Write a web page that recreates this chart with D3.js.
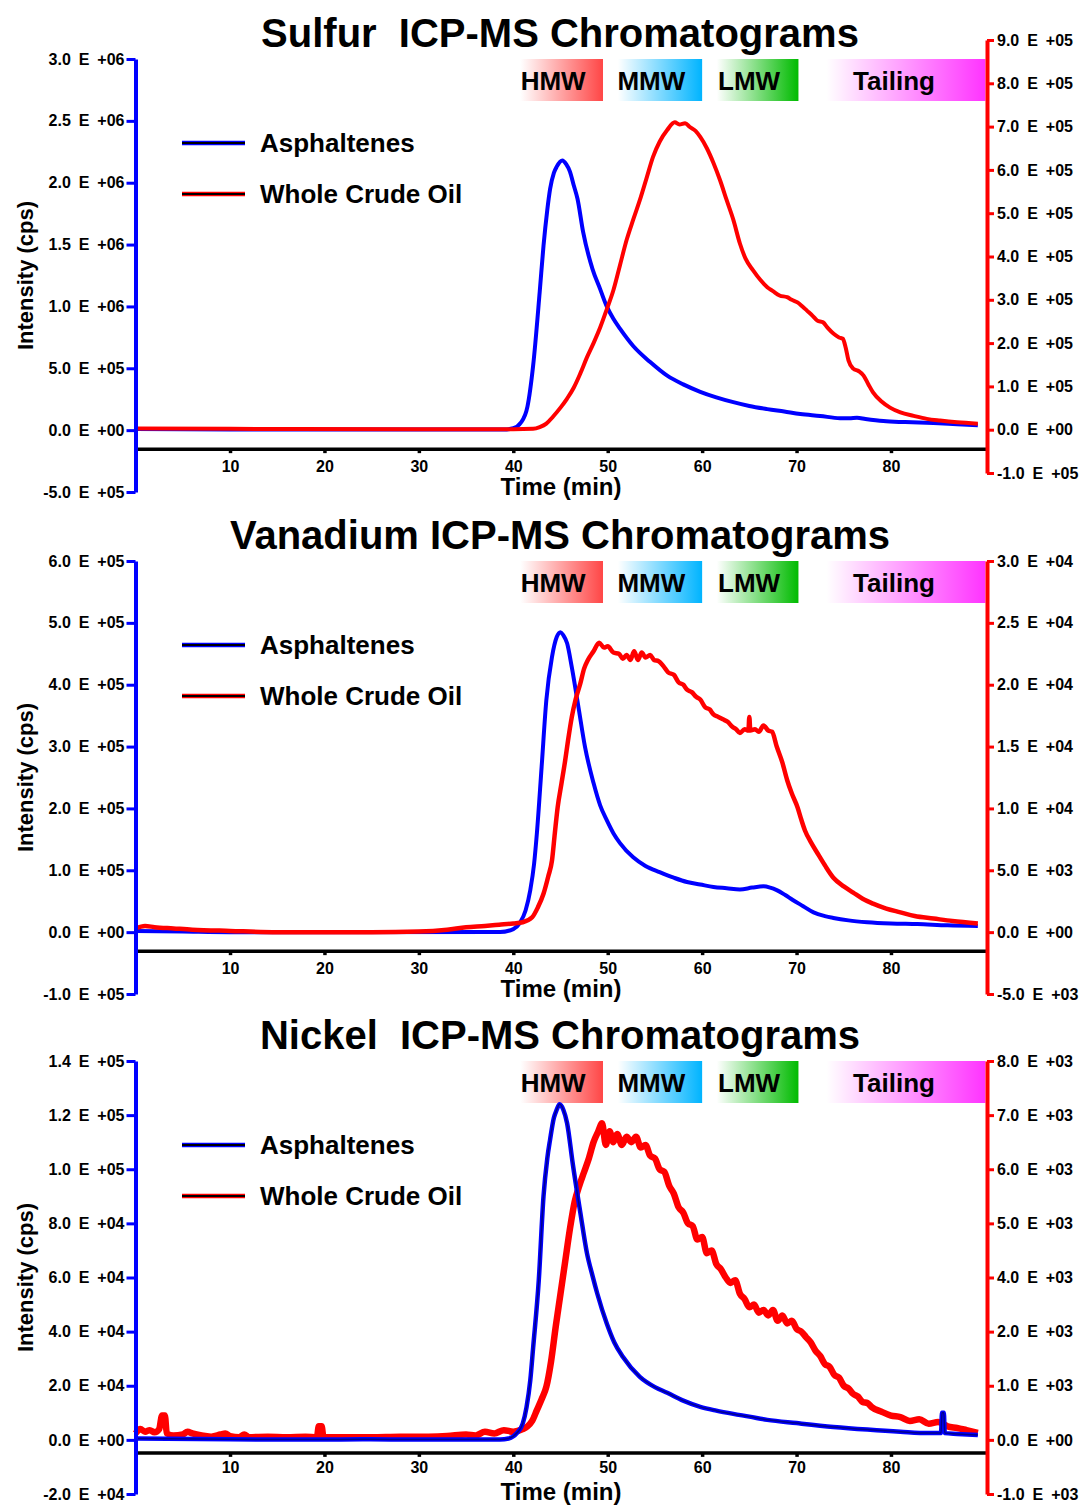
<!DOCTYPE html>
<html lang="en">
<head>
<meta charset="UTF-8" />
<title>ICP-MS Chromatograms</title>
<script src="https://d3js.org/d3.v7.min.js"></script>
<style>
  body { margin: 0; background: #fff; }
  text { font-family: "Liberation Sans", Arial, sans-serif; font-weight: bold; fill: #000; }
</style>
</head>
<body>
<svg id="chart"></svg>
<script>
// ---- data: [time (min), intensity (cps)] ----
var sulfurAsph = [[0,0.01e6],[10,0.005e6],[39,0.005e6],[40,0.015e6],[40.8,0.06e6],[41.5,0.19e6],[42.1,0.52e6],[42.8,1.12e6],[43.2,1.49e6],[43.6,1.78e6],[43.9,1.95e6],[44.3,2.08e6],[44.6,2.13e6],[45.2,2.18e6],[45.6,2.15e6],[46.0,2.09e6],[46.4,1.98e6],[46.8,1.87e6],[47.4,1.6e6],[48.4,1.3e6],[49.2,1.14e6],[49.9,1.0e6],[50.6,0.9e6],[51.3,0.82e6],[52.7,0.68e6],[54.5,0.55e6],[56.3,0.44e6],[58,0.37e6],[59.8,0.31e6],[61.5,0.265e6],[63.3,0.226e6],[65,0.195e6],[66.9,0.17e6],[68.7,0.15e6],[70.4,0.13e6],[72.5,0.115e6],[74.6,0.097e6],[75.6,0.097e6],[76.4,0.1e6],[77.3,0.09e6],[79.2,0.073e6],[81.5,0.065e6],[84.5,0.057e6],[87,0.048e6],[89.2,0.04e6]];
var sulfurCrude = [[0,0.03e5],[10,0.02e5],[30,0.01e5],[40,0.01e5],[42.1,0.02e5],[42.8,0.06e5],[43.5,0.14e5],[44.2,0.3e5],[45,0.51e5],[45.7,0.72e5],[46.4,0.97e5],[47.1,1.3e5],[47.8,1.67e5],[48.5,2.0e5],[49.2,2.36e5],[49.9,2.78e5],[50.6,3.22e5],[51.3,3.8e5],[52.0,4.38e5],[52.7,4.85e5],[53.4,5.3e5],[54.1,5.8e5],[54.8,6.3e5],[55.5,6.65e5],[56.3,6.92e5],[57.1,7.1e5],[57.6,7.05e5],[58.2,7.08e5],[58.7,6.99e5],[59.3,6.9e5],[59.8,6.76e5],[60.5,6.5e5],[61.2,6.16e5],[61.9,5.76e5],[62.6,5.3e5],[63.3,4.85e5],[64.0,4.3e5],[64.6,3.95e5],[65.4,3.68e5],[66.2,3.45e5],[66.9,3.29e5],[67.5,3.2e5],[68.2,3.1e5],[69.0,3.06e5],[69.5,3.0e5],[70.1,2.94e5],[70.6,2.85e5],[71.1,2.75e5],[71.7,2.63e5],[72.2,2.52e5],[72.8,2.48e5],[73.3,2.35e5],[73.9,2.22e5],[74.5,2.13e5],[74.9,2.1e5],[75.2,1.9e5],[75.5,1.6e5],[76.0,1.41e5],[76.6,1.35e5],[77.1,1.25e5],[77.6,1.05e5],[78.1,0.86e5],[79.0,0.65e5],[79.9,0.51e5],[81,0.4e5],[82.4,0.32e5],[83.8,0.25e5],[85.2,0.21e5],[87,0.17e5],[89.2,0.14e5]];

var vanadiumAsph = [[0,0.02e5],[5,0.01e5],[10,0],[38.6,0.003e5],[40,0.05e5],[40.7,0.15e5],[41.3,0.35e5],[41.8,0.68e5],[42.2,1.1e5],[42.5,1.6e5],[43.0,2.67e5],[43.5,3.75e5],[44.1,4.45e5],[44.6,4.77e5],[45.0,4.85e5],[45.3,4.8e5],[45.7,4.67e5],[46.2,4.28e5],[46.9,3.64e5],[47.6,2.99e5],[48.5,2.41e5],[49.2,2.05e5],[49.9,1.81e5],[50.6,1.6e5],[51.3,1.44e5],[52.7,1.21e5],[54,1.07e5],[55.5,0.97e5],[57,0.88e5],[58.4,0.81e5],[59.8,0.77e5],[61.2,0.73e5],[62.6,0.71e5],[64.0,0.69e5],[65.3,0.72e5],[66.5,0.74e5],[67.2,0.72e5],[67.9,0.68e5],[68.8,0.6e5],[69.6,0.52e5],[70.7,0.42e5],[71.8,0.32e5],[73,0.26e5],[73.9,0.23e5],[75.5,0.19e5],[77.5,0.16e5],[80,0.14e5],[82.8,0.13e5],[86,0.11e5],[89.2,0.1e5]];
var vanadiumCrude = [[0,0.03e4],[1,0.05e4],[2,0.04e4],[4,0.03e4],[6,0.02e4],[10,0.01e4],[15,0],[20,0],[25,0],[30,0.005e4],[33,0.02e4],[35,0.04e4],[37,0.05e4],[38.5,0.06e4],[40,0.07e4],[41,0.08e4],[42,0.12e4],[42.6,0.2e4],[43.2,0.31e4],[43.7,0.45e4],[44.1,0.58e4],[44.4,0.8e4],[44.7,1.01e4],[45.1,1.2e4],[45.5,1.39e4],[45.8,1.55e4],[46.2,1.74e4],[46.6,1.88e4],[47.1,2.01e4],[47.5,2.13e4],[47.9,2.2e4],[48.5,2.27e4],[49.1,2.34e4],[49.6,2.3e4],[50,2.31e4],[50.6,2.26e4],[51.2,2.25e4],[51.6,2.21e4],[52,2.24e4],[52.4,2.2e4],[52.8,2.27e4],[53.2,2.2e4],[53.6,2.26e4],[54,2.22e4],[54.5,2.24e4],[54.9,2.2e4],[55.4,2.19e4],[55.9,2.15e4],[56.4,2.1e4],[57,2.08e4],[57.5,2.02e4],[58,2.0e4],[58.4,1.96e4],[58.9,1.94e4],[59.4,1.9e4],[59.8,1.88e4],[60.3,1.82e4],[60.8,1.8e4],[61.2,1.76e4],[61.7,1.74e4],[62.2,1.72e4],[62.7,1.7e4],[63.2,1.66e4],[63.6,1.64e4],[64,1.61e4],[64.5,1.64e4],[64.9,1.63e4],[65.0,1.74e4],[65.1,1.63e4],[65.6,1.64e4],[66,1.62e4],[66.5,1.67e4],[67,1.63e4],[67.4,1.62e4],[67.9,1.5e4],[68.5,1.37e4],[69,1.23e4],[69.5,1.12e4],[70.1,1.01e4],[70.5,0.91e4],[70.9,0.82e4],[71.5,0.73e4],[72.2,0.64e4],[73,0.54e4],[73.9,0.44e4],[75,0.37e4],[76,0.32e4],[77,0.27e4],[78.1,0.23e4],[79.5,0.19e4],[81,0.16e4],[82.5,0.13e4],[84.5,0.11e4],[86.5,0.09e4],[89.2,0.07e4]];

var nickelAsph = [[0,0.05e4],[10,0.02e4],[20,0.01e4],[24,0.02e4],[30,0.01e4],[38.6,0.01e4],[39.5,0.05e4],[40.4,0.26e4],[41,0.6e4],[41.4,1.2e4],[41.8,2.2e4],[42.1,3.4e4],[42.7,5.9e4],[43.2,9.0e4],[43.6,10.4e4],[43.9,11.1e4],[44.3,11.9e4],[44.6,12.2e4],[44.9,12.4e4],[45.3,12.2e4],[45.7,11.7e4],[46.3,10.2e4],[47.1,8.4e4],[47.8,6.9e4],[48.4,6.05e4],[48.9,5.4e4],[49.9,4.3e4],[50.7,3.6e4],[51.6,3.07e4],[53.4,2.33e4],[55,1.95e4],[56.3,1.74e4],[58,1.45e4],[59.8,1.22e4],[61.5,1.08e4],[63.3,0.96e4],[65,0.86e4],[66.9,0.74e4],[70,0.62e4],[73.9,0.48e4],[77.5,0.38e4],[81,0.3e4],[84,0.25e4],[85.3,0.25e4],[85.4,1.0e4],[85.6,1.0e4],[85.7,0.25e4],[87,0.22e4],[89.2,0.18e4]];
var nickelCrude = [[0,0.12e3],[0.5,0.2e3],[1,0.15e3],[1.5,0.18e3],[2,0.14e3],[2.5,0.2e3],[2.8,0.45e3],[3.1,0.45e3],[3.3,0.12e3],[4,0.08e3],[5,0.1e3],[5.5,0.15e3],[6,0.12e3],[7,0.08e3],[8,0.06e3],[9,0.1e3],[9.5,0.12e3],[10,0.07e3],[11,0.05e3],[11.5,0.1e3],[12,0.05e3],[14,0.06e3],[16,0.05e3],[18,0.06e3],[19.2,0.05e3],[19.4,0.25e3],[19.7,0.25e3],[19.9,0.05e3],[22,0.05e3],[25,0.05e3],[28,0.06e3],[31,0.06e3],[33,0.07e3],[35,0.1e3],[36,0.08e3],[37,0.15e3],[38,0.12e3],[39,0.18e3],[40,0.15e3],[41,0.2e3],[41.5,0.25e3],[42,0.35e3],[42.5,0.55e3],[43,0.75e3],[43.5,0.98e3],[44,1.45e3],[44.5,2.1e3],[45,2.7e3],[45.5,3.3e3],[46,3.9e3],[46.5,4.4e3],[47,4.7e3],[47.5,4.95e3],[48,5.2e3],[48.5,5.5e3],[49,5.7e3],[49.4,5.85e3],[49.8,5.45e3],[50.2,5.7e3],[50.6,5.5e3],[51,5.65e3],[51.5,5.45e3],[52,5.6e3],[52.5,5.5e3],[53,5.6e3],[53.5,5.4e3],[54,5.45e3],[54.5,5.25e3],[55,5.2e3],[55.5,5.0e3],[56,4.95e3],[56.5,4.7e3],[57,4.55e3],[57.5,4.3e3],[58,4.2e3],[58.5,4.0e3],[59,3.95e3],[59.5,3.7e3],[60,3.75e3],[60.5,3.45e3],[61,3.5e3],[61.5,3.25e3],[62,3.15e3],[62.5,3.0e3],[63,2.9e3],[63.5,2.95e3],[64,2.7e3],[64.5,2.6e3],[65,2.45e3],[65.5,2.5e3],[66,2.35e3],[66.5,2.4e3],[67,2.3e3],[67.5,2.4e3],[68,2.2e3],[68.5,2.3e3],[69,2.15e3],[69.5,2.2e3],[70,2.05e3],[70.5,2.0e3],[71,1.9e3],[71.5,1.8e3],[72,1.65e3],[72.5,1.55e3],[73,1.4e3],[73.5,1.35e3],[74,1.2e3],[74.5,1.15e3],[75,1.0e3],[75.5,0.95e3],[76,0.85e3],[76.5,0.8e3],[77,0.7e3],[77.5,0.68e3],[78,0.6e3],[79,0.52e3],[80,0.45e3],[81,0.42e3],[82,0.35e3],[83,0.38e3],[84,0.3e3],[85,0.33e3],[86,0.25e3],[87,0.22e3],[88,0.18e3],[89.2,0.13e3]];

// axis ticks
var xTicks = [10, 20, 30, 40, 50, 60, 70, 80];
var sulfurLeftTicks = [-0.5e6, 0, 0.5e6, 1.0e6, 1.5e6, 2.0e6, 2.5e6, 3.0e6];
var sulfurRightTicks = [-1e5, 0, 1e5, 2e5, 3e5, 4e5, 5e5, 6e5, 7e5, 8e5, 9e5];
var vanadiumLeftTicks = [-1e5, 0, 1e5, 2e5, 3e5, 4e5, 5e5, 6e5];
var vanadiumRightTicks = [-5e3, 0, 5e3, 1.0e4, 1.5e4, 2.0e4, 2.5e4, 3.0e4];
var nickelLeftTicks = [-2e4, 0, 2e4, 4e4, 6e4, 8e4, 1.0e5, 1.2e5, 1.4e5];
var nickelRightTicks = [-1e3, 0, 1e3, 2e3, 3e3, 4e3, 5e3, 6e3, 7e3];
// labels as printed on the nickel right axis (3.0 E +03 is skipped there)
var nickelRightLabels = ["-1.0 E +03", "0.0 E +00", "1.0 E +03", "2.0 E +03", "4.0 E +03", "5.0 E +03", "6.0 E +03", "7.0 E +03", "8.0 E +03"];

// fraction bands along the time axis
var bandNames = ["HMW", "MMW", "LMW", "Tailing"];
var bandStart = [40, 50.3, 60.8, 71.7];
var bandEnd = [49.5, 60, 70.2, 90];
var bandColors = ["#ff4646", "#00b4ff", "#00bb00", "#ff33ff"];

var seriesNames = ["Asphaltenes", "Whole Crude Oil"];
var titles = ["Sulfur  ICP-MS Chromatograms", "Vanadium ICP-MS Chromatograms", "Nickel  ICP-MS Chromatograms"];

var panels = [
    { title: titles[0], top: 59, asph: sulfurAsph, crude: sulfurCrude, lt: sulfurLeftTicks, rt: sulfurRightTicks, rl: null, rShift: -19, xDrop: 19, crudeW: 4, nickel: false },
    { title: titles[1], top: 561, asph: vanadiumAsph, crude: vanadiumCrude, lt: vanadiumLeftTicks, rt: vanadiumRightTicks, rl: null, rShift: 0, xDrop: 19, crudeW: 4.5, nickel: false },
    { title: titles[2], top: 1061, asph: nickelAsph, crude: nickelCrude, lt: nickelLeftTicks, rt: nickelRightTicks, rl: nickelRightLabels, rShift: 0, xDrop: 13, crudeW: 6.5, nickel: true }
];

var W = 1083, H = 1505;
var plotH = 433;
var xLeft = 135.6, xRight = 985.4, rightAxisX = 987;

var svg = d3.select("#chart").attr("width", W).attr("height", H);

var defs = svg.append("defs");
bandColors.forEach(function (c, i) {
    var g = defs.append("linearGradient").attr("id", "band" + i)
        .attr("x1", "0%").attr("x2", "100%").attr("y1", "0%").attr("y2", "0%");
    g.append("stop").attr("offset", "0%").attr("stop-color", "#fff");
    g.append("stop").attr("offset", "8%").attr("stop-color", "#fff");
    g.append("stop").attr("offset", "100%").attr("stop-color", c);
});

function sci(v) {
    if (v === 0) return "0.0 E +00";
    var e = Math.floor(Math.log10(Math.abs(v)) + 1e-9);
    var m = v / Math.pow(10, e);
    return m.toFixed(1) + " E " + (e >= 0 ? "+" : "-") + String(Math.abs(e)).padStart(2, "0");
}

var x = d3.scaleLinear().domain([0, 90]).range([xLeft, xRight]);

panels.forEach(function (p) {
    var top = p.top;
    var yL = d3.scaleLinear().domain([d3.min(p.lt), d3.max(p.lt)]).range([top + plotH, top]);
    var yR = d3.scaleLinear().domain([d3.min(p.rt), d3.max(p.rt)]).range([top + plotH + p.rShift, top + p.rShift]);
    var g = svg.append("g");

    // title
    g.append("text").attr("x", 560).attr("y", top - 12)
        .attr("text-anchor", "middle").style("font-size", "40px").style("white-space", "pre")
        .text(p.title);

    // fraction bands
    bandNames.forEach(function (name, i) {
        var x0 = x(bandStart[i]), x1 = x(bandEnd[i]);
        g.append("rect").attr("x", x0).attr("y", top).attr("width", x1 - x0).attr("height", 42)
            .attr("fill", "url(#band" + i + ")");
        g.append("text").attr("x", (x0 + x1) / 2 - 5).attr("y", top + 31)
            .attr("text-anchor", "middle").style("font-size", "26px").text(name);
    });

    // x axis
    var xAxisY = yL(0) + p.xDrop;
    var xa = g.append("g").attr("transform", "translate(0," + xAxisY + ")")
        .call(d3.axisBottom(x).tickValues(xTicks).tickSize(4).tickSizeOuter(0).tickPadding(p.nickel ? 5 : 7));
    xa.select(".domain").attr("stroke", "#000").attr("stroke-width", 3.5).attr("d", "M" + xLeft + ",0H" + rightAxisX);
    xa.selectAll(".tick line").attr("stroke", "#000").attr("stroke-width", 3.5);
    xa.selectAll(".tick text").attr("fill", "#000").style("font-size", "16px").style("font-family", null);

    g.append("text").attr("x", 561).attr("y", top + (p.nickel ? 439 : 436))
        .attr("text-anchor", "middle").style("font-size", "24px").text("Time (min)");

    // curves
    var lineL = d3.line().x(function (d) { return x(d[0]); }).y(function (d) { return yL(d[1]); }).curve(d3.curveMonotoneX);
    var lineR = d3.line().x(function (d) { return x(d[0]); }).y(function (d) { return yR(d[1]); }).curve(d3.curveMonotoneX);

    function drawAsph() {
        g.append("path").datum(p.asph).attr("d", lineL).attr("fill", "none")
            .attr("stroke", "#0000ff").attr("stroke-width", p.nickel ? 4.5 : 4).attr("stroke-linejoin", "round");
        if (p.nickel) {
            g.append("path").datum(p.asph).attr("d", lineL).attr("fill", "none")
                .attr("stroke", "#00008c").attr("stroke-width", 1.5).attr("stroke-linejoin", "round");
        }
    }
    function drawCrude() {
        g.append("path").datum(p.crude).attr("d", lineR).attr("fill", "none")
            .attr("stroke", "#ff0000").attr("stroke-width", p.crudeW).attr("stroke-linejoin", "round");
    }
    if (p.nickel) { drawCrude(); drawAsph(); } else { drawAsph(); drawCrude(); }

    // left axis
    var la = g.append("g").attr("transform", "translate(" + 135.5 + ",0)")
        .call(d3.axisLeft(yL).tickValues(p.lt).tickSize(9).tickSizeOuter(0).tickPadding(2).tickFormat(sci));
    la.select(".domain").attr("stroke", "#0000ff").attr("stroke-width", 4);
    la.selectAll(".tick line").attr("stroke", "#0000ff").attr("stroke-width", 3);
    la.selectAll(".tick text").attr("fill", "#000").style("font-size", "16px").style("font-family", null).style("word-spacing", "3.5px");

    // right axis
    var rFmt = p.rl ? function (d, i) { return p.rl[i]; } : sci;
    var ra = g.append("g").attr("transform", "translate(" + rightAxisX + ",0)")
        .call(d3.axisRight(yR).tickValues(p.rt).tickSize(7).tickSizeOuter(0).tickPadding(3).tickFormat(rFmt));
    ra.select(".domain").attr("stroke", "#ff0000").attr("stroke-width", 4);
    ra.selectAll(".tick line").attr("stroke", "#ff0000").attr("stroke-width", 3);
    ra.selectAll(".tick text").attr("fill", "#000").style("font-size", "16px").style("font-family", null).style("word-spacing", "3.5px");

    // y label
    g.append("text").attr("transform", "translate(33," + (top + plotH / 2) + ") rotate(-90)")
        .attr("text-anchor", "middle").style("font-size", "22px").text("Intensity (cps)");

    // legend
    var legColors = ["#0000ff", "#ff0000"];
    seriesNames.forEach(function (name, i) {
        var ly = top + 84 + i * 51;
        g.append("line").attr("x1", 182).attr("x2", 245).attr("y1", ly).attr("y2", ly)
            .attr("stroke", legColors[i]).attr("stroke-width", 4.5);
        g.append("line").attr("x1", 182).attr("x2", 245).attr("y1", ly).attr("y2", ly)
            .attr("stroke", "#000").attr("stroke-width", 2);
        g.append("text").attr("x", 260).attr("y", ly + 9).style("font-size", "26px").text(name);
    });
});
</script>
</body>
</html>
